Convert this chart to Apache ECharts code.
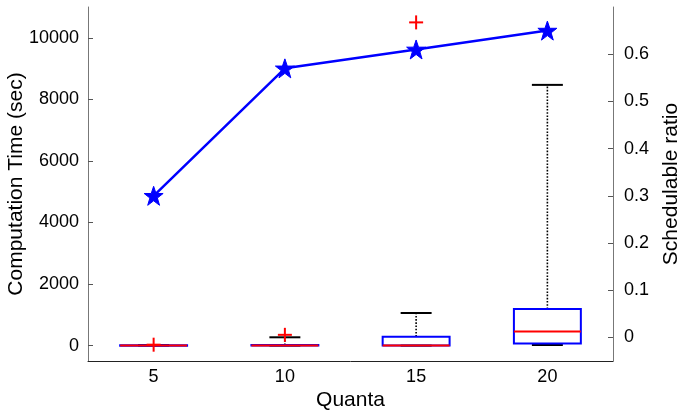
<!DOCTYPE html>
<html>
<head>
<meta charset="utf-8">
<script src="https://cdn.jsdelivr.net/npm/echarts@6/dist/echarts.min.js"></script>
<style>
html,body{margin:0;padding:0;background:#fff;}
#chart{width:681px;height:413px;}
</style>
</head>
<body>
<div id="chart"></div>
<script>
const quanta = ['5', '10', '15', '20'];
const boxMin = [0, 0, 0, 20];
const boxQ1 = [0, 0, 0, 70];
const boxMedian = [0, 5, 5, 460];
const boxQ3 = [15, 20, 290, 1190];
const boxMax = [20, 270, 1060, 8470];
const outlierIdx = [0, 1, 2];
const outlierVal = [30, 350, 10500];
const schedRatio = [0.30, 0.57, 0.61, 0.65];
const leftTicks = [0, 2000, 4000, 6000, 8000, 10000];
const rightTicks = [0, 0.1, 0.2, 0.3, 0.4, 0.5, 0.6];

const FONT = 'Liberation Sans';
const boxData = quanta.map((q, i) => [i, boxMin[i], boxQ1[i], boxMedian[i], boxQ3[i], boxMax[i]]);
const outlierData = outlierIdx.map((ix, k) => [ix, outlierVal[k]]);
const starPath = 'path://M12,0 L14.9,8.1 L23.4,8.1 L16.5,13.2 L19.1,21.4 L12,16.3 L4.9,21.4 L7.5,13.2 L0.6,8.1 L9.1,8.1 Z';

const chart = echarts.init(document.getElementById('chart'), null, {renderer: 'canvas'});
chart.setOption({
  animation: false,
  backgroundColor: '#fff',
  grid: {left: 88, right: 68, top: 7, bottom: 52, containLabel: false, outerBoundsMode: 'none'},
  xAxis: {
    type: 'category',
    data: quanta,
    boundaryGap: true,
    name: 'Quanta',
    nameLocation: 'middle',
    nameGap: 29,
    nameMoveOverlap: false,
    nameTextStyle: {fontFamily: FONT, fontSize: 21, color: '#000'},
    axisLine: {onZero: false, lineStyle: {color: '#222', width: 1}},
    axisTick: {inside: true, alignWithLabel: true, length: 5, lineStyle: {color: '#222'}},
    axisLabel: {fontFamily: FONT, fontSize: 18, color: '#000', margin: 7},
    splitLine: {show: false}
  },
  yAxis: [
    {
      type: 'value',
      min: -500,
      max: 11000,
      position: 'left',
      name: 'Computation Time (sec)',
      nameLocation: 'middle',
      nameRotate: 90,
      nameGap: 61,
      nameMoveOverlap: false,
      nameTextStyle: {fontFamily: FONT, fontSize: 21, color: '#000'},
      axisLine: {show: true, onZero: false, lineStyle: {color: '#777', width: 1}},
      axisTick: {show: true, inside: true, length: 5, customValues: leftTicks, lineStyle: {color: '#555'}},
      axisLabel: {fontFamily: FONT, fontSize: 18, color: '#000', margin: 9, customValues: leftTicks,
        formatter: v => String(Math.round(v))},
      splitLine: {show: false}
    },
    {
      type: 'value',
      min: -0.05,
      max: 0.7,
      position: 'right',
      name: 'Schedulable ratio',
      nameLocation: 'middle',
      nameRotate: 90,
      nameGap: 48,
      nameMoveOverlap: false,
      nameTextStyle: {fontFamily: FONT, fontSize: 21, color: '#000'},
      axisLine: {show: true, onZero: false, lineStyle: {color: '#777', width: 1}},
      axisTick: {show: true, inside: true, length: 5, customValues: rightTicks, lineStyle: {color: '#555'}},
      axisLabel: {fontFamily: FONT, fontSize: 18, color: '#000', margin: 11, customValues: rightTicks,
        formatter: v => (Math.abs(v) < 1e-9 ? '0' : v.toFixed(1))},
      splitLine: {show: false}
    }
  ],
  series: [
    {
      type: 'custom',
      name: 'box',
      yAxisIndex: 0,
      data: boxData,
      encode: {x: 0, y: [1, 2, 3, 4, 5]},
      z: 2,
      renderItem: function (params, api) {
        const i = api.value(0);
        const x = api.coord([i, 0])[0];
        const bw = api.size([1, 0])[0];
        const half = bw * 0.255;
        const capHalf = bw * 0.118;
        const yMin = api.coord([i, api.value(1)])[1];
        const yQ1 = api.coord([i, api.value(2)])[1];
        const yMed = api.coord([i, api.value(3)])[1];
        const yQ3 = api.coord([i, api.value(4)])[1];
        const yMax = api.coord([i, api.value(5)])[1];
        const dotted = {stroke: '#000', lineWidth: 1.6, lineDash: [1.6, 1.6]};
        const solid = {stroke: '#000', lineWidth: 2};
        return {
          type: 'group',
          children: [
            {type: 'line', shape: {x1: x, y1: yQ3, x2: x, y2: yMax}, style: dotted},
            {type: 'line', shape: {x1: x, y1: yMin, x2: x, y2: yQ1}, style: dotted},
            {type: 'line', shape: {x1: x - capHalf, y1: yMax, x2: x + capHalf, y2: yMax}, style: solid},
            {type: 'line', shape: {x1: x - capHalf, y1: yMin, x2: x + capHalf, y2: yMin}, style: solid},
            {type: 'rect', shape: {x: x - half, y: yQ3, width: 2 * half, height: Math.max(yQ1 - yQ3, 0.5)},
              style: {fill: null, stroke: '#0000ff', lineWidth: 2}},
            {type: 'line', shape: {x1: x - half, y1: yMed, x2: x + half, y2: yMed},
              style: {stroke: '#ff0000', lineWidth: 2}}
          ]
        };
      }
    },
    {
      type: 'custom',
      name: 'outliers',
      yAxisIndex: 0,
      data: outlierData,
      encode: {x: 0, y: 1},
      z: 3,
      renderItem: function (params, api) {
        const p = api.coord([api.value(0), api.value(1)]);
        const s = 7;
        const st = {stroke: '#ff0000', lineWidth: 2};
        return {
          type: 'group',
          children: [
            {type: 'line', shape: {x1: p[0] - s, y1: p[1], x2: p[0] + s, y2: p[1]}, style: st},
            {type: 'line', shape: {x1: p[0], y1: p[1] - s, x2: p[0], y2: p[1] + s}, style: st}
          ]
        };
      }
    },
    {
      type: 'line',
      name: 'Schedulable ratio',
      yAxisIndex: 1,
      data: schedRatio,
      z: 4,
      symbol: starPath,
      symbolSize: 19,
      showAllSymbol: true,
      lineStyle: {color: '#0000ff', width: 2.5},
      itemStyle: {color: '#0000ff', borderColor: '#0000ff', borderWidth: 1}
    }
  ]
});
</script>
</body>
</html>
